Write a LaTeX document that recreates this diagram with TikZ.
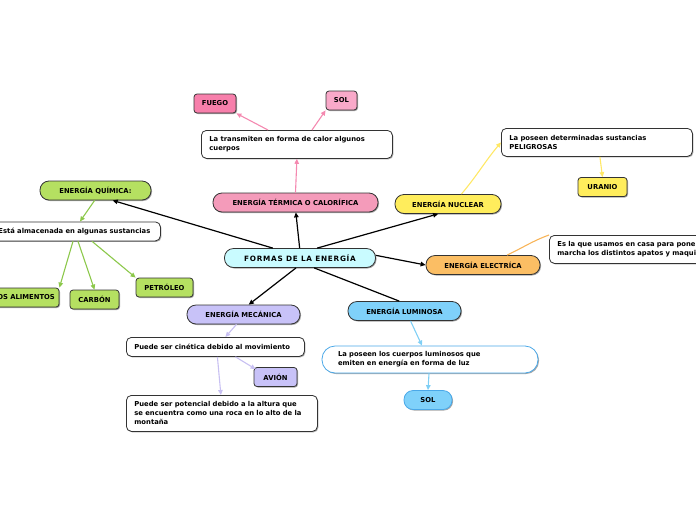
\documentclass[tikz,border=0pt]{standalone}
\usepackage{fontspec}
\setmainfont{DejaVu Sans}
\newfontfamily\titlefont[LetterSpace=10]{DejaVu Sans}
\usetikzlibrary{arrows.meta,shadows,calc}
\definecolor{ctitle}{HTML}{C9FBFF}
\definecolor{cterm}{HTML}{F49BBA}
\definecolor{cfuego}{HTML}{F77FAB}
\definecolor{csolp}{HTML}{F9A9C9}
\definecolor{cgreen}{HTML}{B5E061}
\definecolor{cyellow}{HTML}{FFED5C}
\definecolor{corange}{HTML}{FBBE64}
\definecolor{cblue}{HTML}{7FD1FA}
\definecolor{clav}{HTML}{C8C2F8}
\definecolor{lpink}{HTML}{F489B0}
\definecolor{lgreen}{HTML}{8CC84B}
\definecolor{lyellow}{HTML}{FFE866}
\definecolor{lorange}{HTML}{F8B55A}
\definecolor{lblue}{HTML}{7FCFF5}
\definecolor{llav}{HTML}{C8C0F2}
\definecolor{bblue}{HTML}{4AA8E8}
\begin{document}
\begin{tikzpicture}[x=1pt,y=-1pt,
  shad/.style={drop shadow={shadow xshift=1pt,shadow yshift=-1pt,opacity=0.35,fill=black}},
  pill/.style={draw=black!80, line width=0.8pt, rounded corners=9pt, inner sep=0pt,
     minimum height=19pt, font=\bfseries\fontsize{6.8}{8}\selectfont, shad},
  tag/.style={draw=black!80, line width=0.8pt, rounded corners=3pt, inner sep=0pt,
     minimum height=19pt, font=\bfseries\fontsize{6.8}{8}\selectfont, shad},
  note/.style={draw=black!80, line width=0.8pt, rounded corners=5pt, fill=white, inner xsep=8pt, inner ysep=0pt,
     align=left, font=\bfseries\fontsize{6.8}{9}\selectfont, shad, anchor=north west},
  main/.style={line width=1.2pt, black, -{Triangle[length=5pt,width=4.5pt]}},
  sub/.style={line width=1.1pt, -{Triangle[length=5pt,width=4.5pt]}}
]
\useasboundingbox (0,0) rectangle (696,520);
\clip (0,0) rectangle (696,520);

% central
\node[pill, fill=ctitle, minimum width=151pt, font=\titlefont\bfseries\fontsize{7.3}{8}\selectfont] (c) at (300,258) {FORMAS DE LA ENERGÍA};

% termica
\node[pill, fill=cterm, minimum width=165pt] (term) at (295.5,202.5) {ENERGÍA TÉRMICA O CALORÍFICA};
\node[note, minimum width=191pt, minimum height=28pt, text width=175pt] (trans) at (201,130) {La transmiten en forma de calor algunos\\cuerpos};
\node[tag, fill=cfuego, minimum width=42pt] (fuego) at (215,103.5) {FUEGO};
\node[tag, fill=csolp, minimum width=31pt] (solp) at (341.5,100.5) {SOL};

% quimica
\node[pill, fill=cgreen, minimum width=111pt] (quim) at (95.5,190.5) {ENERGÍA QUÍMICA:};
\node[note, minimum width=170pt, minimum height=19pt, text width=154pt] (esta) at (-10,221.5) {Está almacenada en algunas sustancias};
\node[tag, fill=cgreen, minimum width=70pt] (alim) at (24,297.5) {LOS ALIMENTOS};
\node[tag, fill=cgreen, minimum width=49pt] (carb) at (94.5,299.5) {CARBÓN};
\node[tag, fill=cgreen, minimum width=57pt] (petr) at (164.5,287.5) {PETRÓLEO};

% nuclear
\node[pill, fill=cyellow, minimum width=106pt] (nuc) at (448,204) {ENERGÍA NUCLEAR};
\node[note, minimum width=191pt, minimum height=28pt, text width=175pt] (det) at (501,128) {La poseen determinadas sustancias\\PELIGROSAS};
\node[tag, fill=cyellow, minimum width=49pt] (uran) at (602.5,187) {URANIO};

% electrica
\node[pill, fill=corange, minimum width=114pt] (elec) at (483,265) {ENERGÍA ELECTRÍCA};
\node[note, minimum width=191pt, minimum height=28pt, text width=175pt] (casa) at (549,235) {Es la que usamos en casa para poner en\\marcha los distintos apatos y maquinas};

% luminosa
\node[pill, fill=cblue, minimum width=113pt] (lum) at (404.5,311) {ENERGÍA LUMINOSA};
\node[note, draw=bblue, rounded corners=13pt, minimum width=216pt, minimum height=27pt, text width=184pt, inner xsep=0pt, drop shadow={opacity=0}, anchor=center] (cuer) at (430,359.5) {La poseen los cuerpos luminosos que\\emiten en energía en forma de luz};
\node[pill, fill=cblue, minimum width=48pt, draw=bblue] (solb) at (428,400) {SOL};

% mecanica
\node[pill, fill=clav, minimum width=113pt] (mec) at (243.5,314.5) {ENERGÍA MECÁNICA};
\node[note, minimum width=178pt, minimum height=19pt, text width=162pt] (cin) at (126,337) {Puede ser cinética debido al movimiento};
\node[tag, fill=clav, minimum width=43pt] (avion) at (275.5,377) {AVIÓN};
\node[note, minimum width=191pt, minimum height=36pt, text width=175pt] (pot) at (126,395) {Puede ser potencial debido a la altura que\\se encuentra como una roca en lo alto de la\\montaña};

% main connectors
\draw[main] (c.160) -- (quim.-30);
\draw[main] (c.92) -- (term.-88);
\draw[main] (c.30) -- (nuc.-135);
\draw[main] (c.2) -- (elec.west);
\draw[line width=1.2pt] (c.-35) -- (lum.118);
\draw[main] (c.-112) -- (mec.62);

% termica
\draw[sub, lpink] (term.north) -- (trans.south);
\draw[sub, lpink] ($(trans.north west)+(67,0)$) -- (fuego.south east);
\draw[sub, lpink] ($(trans.north west)+(111,0)$) -- (solp.south west);

% quimica
\draw[sub, lgreen] (quim.-95) -- ($(esta.north west)+(90,0)$);
\draw[sub, lgreen] ($(esta.south west)+(83,0)$) -- (alim.north east);
\draw[sub, lgreen] ($(esta.south west)+(88,0)$) -- (carb.north);
\draw[sub, lgreen] ($(esta.south west)+(102,0)$) -- (petr.north west);

% nuclear
\draw[sub, lyellow] ($(nuc.north east)+(-40,0)$) to[out=50,in=230] (det.west);
\draw[sub, lyellow] ($(det.south)+(3,0)$) -- (uran.north);

% electrica
\draw[line width=1.1pt, lorange] ($(elec.north)+(24,0)$) to[out=25,in=200] (casa.north west);

% luminosa
\draw[sub, lblue] ($(lum.south)+(6,0)$) -- ($(cuer.north)+(-8,0)$);
\draw[sub, lblue] ($(cuer.south)+(-1,0)$) -- (solb.north);

% mecanica
\draw[sub, llav] ($(mec.south)+(-7,0)$) -- ($(cin.north)+(10,0)$);
\draw[sub, llav] ($(cin.south)+(20,0)$) -- ($(avion.north west)+(2,2)$);
\draw[sub, llav] ($(cin.south)+(2,0)$) -- ($(pot.north)+(-1,0)$);
\end{tikzpicture}
\end{document}
